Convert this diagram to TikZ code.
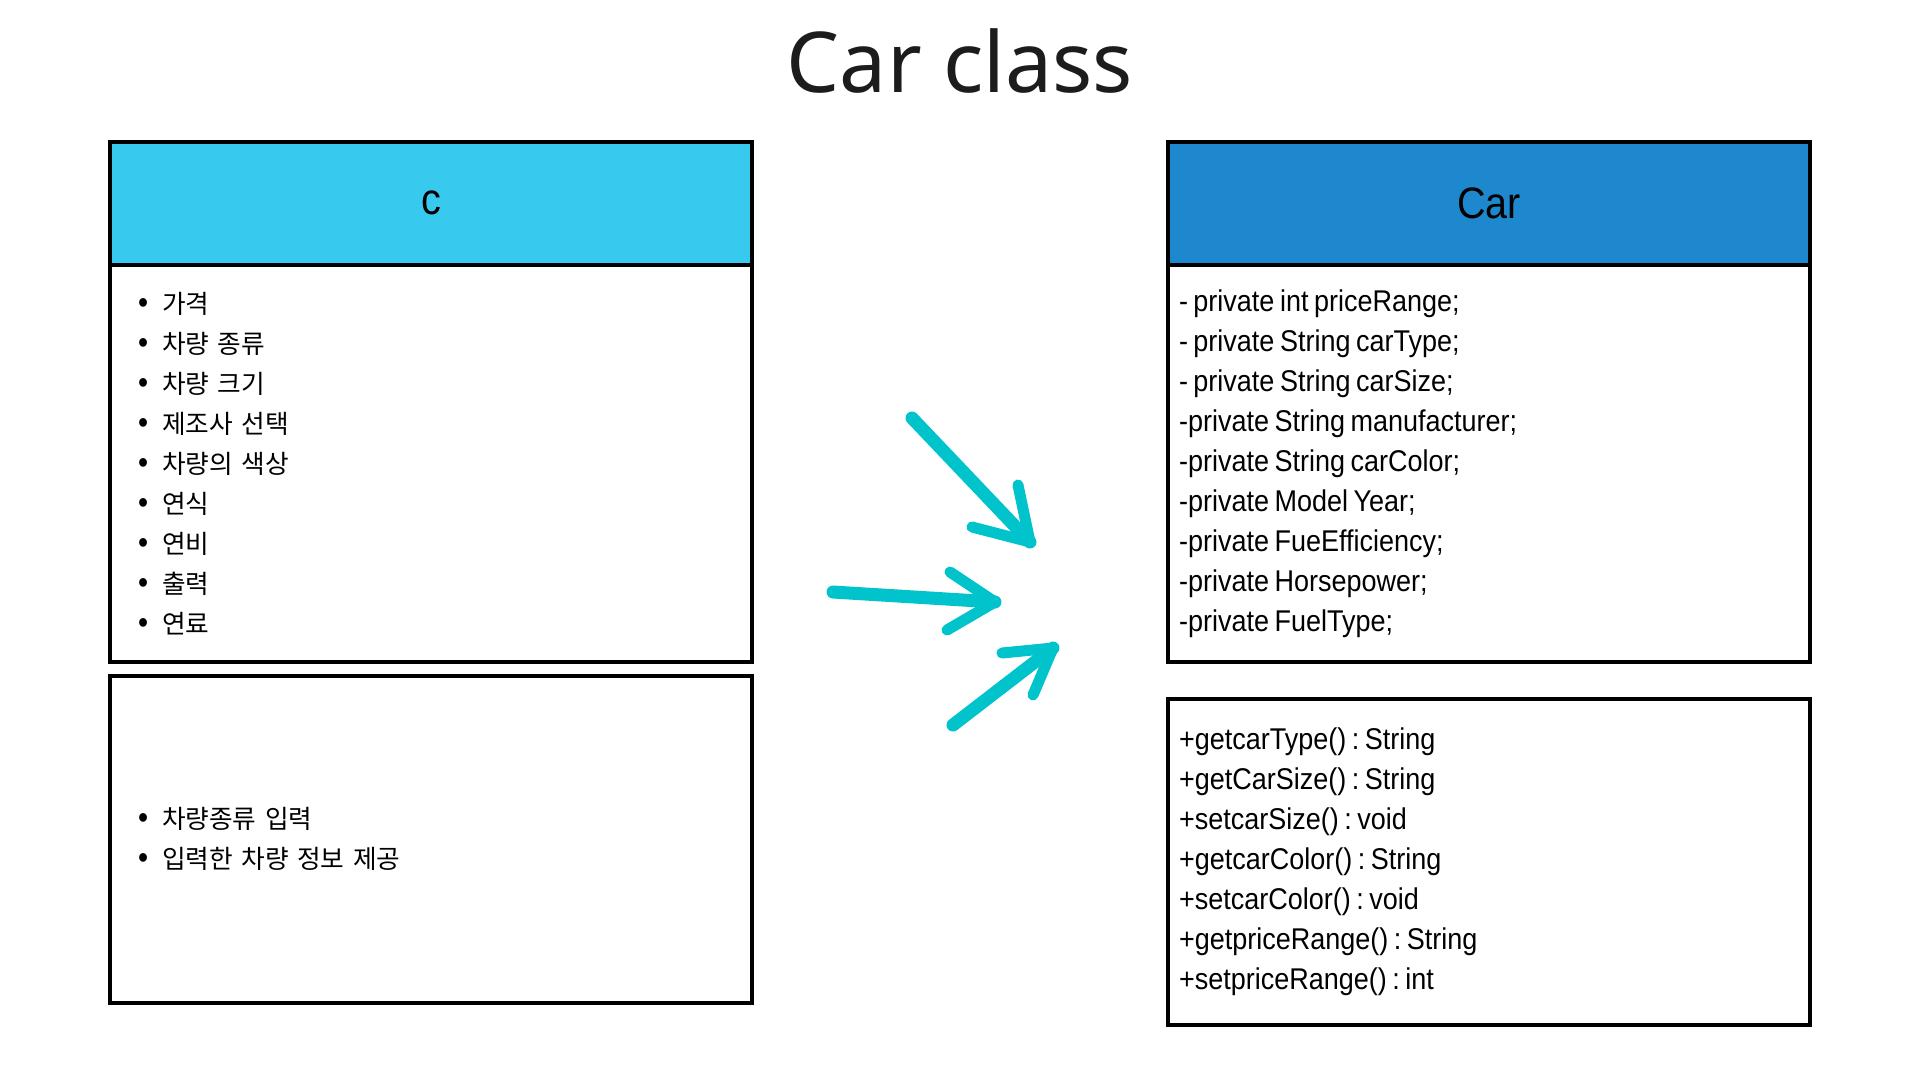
\documentclass[tikz,border=0pt]{standalone}
\usepackage{fontspec}
\setmainfont{Noto Sans CJK KR}
\newfontfamily\titlefont{Noto Sans}
\newfontfamily\narrowfont[FakeStretch=0.9]{Liberation Sans}
\usetikzlibrary{positioning}
\definecolor{skyhead}{HTML}{38C9EF}
\definecolor{bluehead}{HTML}{1E88CF}
\definecolor{penteal}{HTML}{00C3CC}
\definecolor{titlegray}{HTML}{1C1C1C}
\newcommand{\itm}[1]{\makebox[24pt][l]{\narrowfont\fontsize{32}{32}\selectfont•}#1}
\newcommand{\gap}{\hspace{5.5pt}}

\begin{document}
\begin{tikzpicture}[x=1pt, y=-1pt,
    hdr/.style={draw, line width=4pt, outer sep=0pt, minimum width=642pt, minimum height=122.5pt, font=\narrowfont\fontsize{44}{52}\selectfont},
    compart/.style={draw, line width=4pt, outer sep=0pt, minimum width=642pt, align=left},
    kor/.style={font=\fontsize{25.7}{40}\selectfont},
    lat/.style={font=\narrowfont\fontsize{30}{40}\selectfont},
    pen/.style={penteal, line width=13pt, line cap=round, line join=round},
    penhead/.style={pen, line width=11pt}]
    % Bildbereich
    \useasboundingbox (0,0) rectangle (1920,1080);
    % Titel
    \node[anchor=base, font=\titlefont\fontsize{84}{96}\selectfont, text=titlegray] (ttl) at (960,92) {Car class};
    % linke Klasse
    \node[hdr, fill=skyhead] (hdrC) at (431,203.25) {c};
    \node[compart, kor, below=0pt of hdrC, minimum height=397.5pt, inner xsep=28pt, text width=586pt] (attrC)
        {\itm{가격}\\ \itm{차량 종류}\\ \itm{차량 크기}\\ \itm{제조사 선택}\\ \itm{차량의 색상}\\
         \itm{연식}\\ \itm{연비}\\ \itm{출력}\\ \itm{연료}};
    \node[compart, kor, below=13.5pt of attrC, minimum height=327.5pt, inner xsep=28pt, text width=586pt] (methC)
        {\itm{차량종류 입력}\\ \itm{입력한 차량 정보 제공}};
    % rechte Klasse
    \node[hdr, fill=bluehead] (hdrCar) at (1489,203.25) {Car};
    \node[compart, lat, below=0pt of hdrCar, minimum height=397.5pt, inner xsep=11pt, text width=620pt] (attrCar)
        {-\gap private\gap int\gap priceRange;\\ -\gap private\gap String\gap carType;\\
         -\gap private\gap String\gap carSize;\\ -private\gap String\gap manufacturer;\\
         -private\gap String\gap carColor;\\ -private\gap Model\gap Year;\\
         -private\gap FueEfficiency;\\ -private\gap Horsepower;\\ -private\gap FuelType;};
    \node[compart, lat, below=37pt of attrCar, minimum height=326pt, inner xsep=11pt, text width=620pt] (methCar)
        {+getcarType()\gap:\gap String\\ +getCarSize()\gap:\gap String\\ +setcarSize()\gap:\gap void\\
         +getcarColor()\gap:\gap String\\ +setcarColor()\gap:\gap void\\ +getpriceRange()\gap:\gap String\\
         +setpriceRange()\gap:\gap int};
    % Pfeile
    \coordinate (a1s) at (912,418);  \coordinate (a1t) at (1030,542);
    \coordinate (a1l) at (972,527);  \coordinate (a1r) at (1018,485);
    \coordinate (a2s) at (833,592);  \coordinate (a2t) at (995,602);
    \coordinate (a2l) at (950,572);  \coordinate (a2r) at (947,630);
    \coordinate (a3s) at (953,725);  \coordinate (a3t) at (1053,648);
    \coordinate (a3l) at (1002,653); \coordinate (a3r) at (1033,695);
    \draw[pen] (a1s) -- (a1t);
    \draw[penhead] (a1l) -- (a1t) -- (a1r);
    \draw[pen] (a2s) -- (a2t);
    \draw[penhead] (a2l) -- (a2t) -- (a2r);
    \draw[pen] (a3s) -- (a3t);
    \draw[penhead] (a3l) -- (a3t) -- (a3r);
\end{tikzpicture}
\end{document}
